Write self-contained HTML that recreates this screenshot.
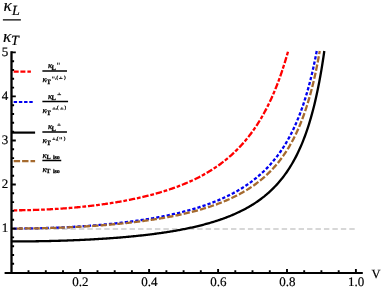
<!DOCTYPE html>
<html><head><meta charset="utf-8"><title>plot</title>
<style>html,body{margin:0;padding:0;background:#fff;width:382px;height:289px;overflow:hidden}svg{display:block;position:absolute;left:0;top:0;will-change:transform;opacity:0.999}svg text{text-rendering:geometricPrecision}</style></head>
<body>
<svg width="382" height="289" viewBox="0 0 382 289">
<rect width="382" height="289" fill="#fff"/>
<g fill="none">
<path d="M11.3 228.9 H355.9" stroke="#cacaca" stroke-width="1.5" stroke-dasharray="5.4 3.05"/>
<path d="M11.30 210.30 L12.34 210.30 L13.37 210.30 L14.41 210.30 L15.45 210.29 L16.49 210.29 L17.52 210.28 L18.56 210.27 L19.60 210.26 L20.63 210.25 L21.67 210.23 L22.71 210.22 L23.74 210.20 L24.78 210.18 L25.82 210.16 L26.86 210.14 L27.89 210.12 L28.93 210.09 L29.97 210.07 L31.00 210.04 L32.04 210.01 L33.08 209.98 L34.11 209.95 L35.15 209.92 L36.19 209.88 L37.23 209.85 L38.26 209.81 L39.30 209.77 L40.34 209.73 L41.37 209.69 L42.41 209.65 L43.45 209.60 L44.49 209.56 L45.52 209.51 L46.56 209.46 L47.60 209.41 L48.63 209.36 L49.67 209.30 L50.71 209.25 L51.74 209.19 L52.78 209.13 L53.82 209.07 L54.86 209.01 L55.89 208.95 L56.93 208.88 L57.97 208.82 L59.00 208.75 L60.04 208.68 L61.08 208.61 L62.11 208.53 L63.15 208.46 L64.19 208.38 L65.23 208.31 L66.26 208.23 L67.30 208.15 L68.34 208.06 L69.37 207.98 L70.41 207.89 L71.45 207.81 L72.49 207.72 L73.52 207.63 L74.56 207.53 L75.60 207.44 L76.63 207.34 L77.67 207.25 L78.71 207.15 L79.74 207.05 L80.78 206.94 L81.82 206.84 L82.86 206.73 L83.89 206.62 L84.93 206.51 L85.97 206.40 L87.00 206.29 L88.04 206.17 L89.08 206.05 L90.12 205.94 L91.15 205.81 L92.19 205.69 L93.23 205.57 L94.26 205.44 L95.30 205.31 L96.34 205.18 L97.37 205.05 L98.41 204.91 L99.45 204.78 L100.49 204.64 L101.52 204.50 L102.56 204.35 L103.60 204.21 L104.63 204.06 L105.67 203.91 L106.71 203.76 L107.74 203.61 L108.78 203.45 L109.82 203.29 L110.86 203.13 L111.89 202.97 L112.93 202.80 L113.97 202.64 L115.00 202.47 L116.04 202.30 L117.08 202.12 L118.12 201.95 L119.15 201.77 L120.19 201.59 L121.23 201.40 L122.26 201.22 L123.30 201.03 L124.34 200.84 L125.37 200.64 L126.41 200.45 L127.45 200.25 L128.49 200.04 L129.52 199.84 L130.56 199.63 L131.60 199.42 L132.63 199.21 L133.67 198.99 L134.71 198.77 L135.74 198.55 L136.78 198.33 L137.82 198.10 L138.86 197.87 L139.89 197.64 L140.93 197.40 L141.97 197.16 L143.00 196.92 L144.04 196.67 L145.08 196.42 L146.12 196.17 L147.15 195.91 L148.19 195.65 L149.23 195.39 L150.26 195.12 L151.30 194.85 L152.34 194.57 L153.37 194.29 L154.41 194.01 L155.45 193.73 L156.49 193.44 L157.52 193.14 L158.56 192.85 L159.60 192.54 L160.63 192.24 L161.67 191.93 L162.71 191.61 L163.74 191.29 L164.78 190.97 L165.82 190.64 L166.86 190.31 L167.89 189.97 L168.93 189.63 L169.97 189.28 L171.00 188.93 L172.04 188.57 L173.08 188.21 L174.12 187.84 L175.15 187.47 L176.19 187.09 L177.23 186.71 L178.26 186.32 L179.30 185.92 L180.34 185.52 L181.37 185.11 L182.41 184.70 L183.45 184.28 L184.49 183.86 L185.52 183.42 L186.56 182.98 L187.60 182.54 L188.63 182.09 L189.67 181.63 L190.71 181.16 L191.75 180.69 L192.78 180.21 L193.82 179.72 L194.86 179.22 L195.89 178.72 L196.93 178.20 L197.97 177.68 L199.00 177.15 L200.04 176.62 L201.08 176.07 L202.12 175.51 L203.15 174.95 L204.19 174.38 L205.23 173.79 L206.26 173.20 L207.30 172.59 L208.34 171.98 L209.37 171.36 L210.41 170.72 L211.45 170.07 L212.49 169.42 L213.52 168.75 L214.56 168.06 L215.60 167.37 L216.63 166.67 L217.67 165.95 L218.71 165.21 L219.75 164.47 L220.78 163.71 L221.82 162.94 L222.86 162.15 L223.89 161.35 L224.93 160.53 L225.97 159.70 L227.00 158.85 L228.04 157.98 L229.08 157.10 L230.12 156.20 L231.15 155.28 L232.19 154.35 L233.23 153.39 L234.26 152.42 L235.30 151.42 L236.34 150.41 L237.37 149.38 L238.41 148.32 L239.45 147.24 L240.49 146.14 L241.52 145.01 L242.56 143.86 L243.60 142.69 L244.63 141.49 L245.67 140.26 L246.71 139.01 L247.75 137.73 L248.78 136.41 L249.82 135.07 L250.86 133.70 L251.89 132.30 L252.93 130.86 L253.97 129.39 L255.00 127.89 L256.04 126.34 L257.08 124.77 L258.12 123.15 L259.15 121.49 L260.19 119.79 L261.23 118.05 L262.26 116.27 L263.30 114.43 L264.34 112.55 L265.37 110.63 L266.41 108.65 L267.45 106.62 L268.49 104.53 L269.52 102.39 L270.56 100.18 L271.60 97.92 L272.63 95.59 L273.67 93.20 L274.71 90.74 L275.75 88.20 L276.78 85.59 L277.82 82.91 L278.86 80.14 L279.89 77.29 L280.93 74.35 L281.97 71.32 L283.00 68.19 L284.04 64.97 L285.08 61.64 L286.12 58.20 L287.15 54.64 L288.18 51.00" stroke="#f00" stroke-width="2.3" stroke-dasharray="6.4 1.8 3.75 1.85" stroke-dashoffset="6"/>
<path d="M11.30 228.55 L12.34 228.55 L13.37 228.55 L14.41 228.55 L15.45 228.54 L16.49 228.54 L17.52 228.53 L18.56 228.53 L19.60 228.52 L20.63 228.51 L21.67 228.50 L22.71 228.49 L23.74 228.48 L24.78 228.47 L25.82 228.46 L26.86 228.44 L27.89 228.43 L28.93 228.41 L29.97 228.40 L31.00 228.38 L32.04 228.36 L33.08 228.34 L34.11 228.32 L35.15 228.30 L36.19 228.28 L37.23 228.26 L38.26 228.23 L39.30 228.21 L40.34 228.18 L41.37 228.15 L42.41 228.13 L43.45 228.10 L44.49 228.07 L45.52 228.04 L46.56 228.01 L47.60 227.97 L48.63 227.94 L49.67 227.90 L50.71 227.87 L51.74 227.83 L52.78 227.79 L53.82 227.75 L54.86 227.71 L55.89 227.67 L56.93 227.63 L57.97 227.59 L59.00 227.54 L60.04 227.50 L61.08 227.45 L62.11 227.41 L63.15 227.36 L64.19 227.31 L65.23 227.26 L66.26 227.21 L67.30 227.16 L68.34 227.10 L69.37 227.05 L70.41 226.99 L71.45 226.93 L72.49 226.88 L73.52 226.82 L74.56 226.76 L75.60 226.70 L76.63 226.63 L77.67 226.57 L78.71 226.51 L79.74 226.44 L80.78 226.37 L81.82 226.30 L82.86 226.24 L83.89 226.17 L84.93 226.09 L85.97 226.02 L87.00 225.95 L88.04 225.87 L89.08 225.79 L90.12 225.72 L91.15 225.64 L92.19 225.56 L93.23 225.48 L94.26 225.39 L95.30 225.31 L96.34 225.22 L97.37 225.14 L98.41 225.05 L99.45 224.96 L100.49 224.87 L101.52 224.78 L102.56 224.68 L103.60 224.59 L104.63 224.49 L105.67 224.40 L106.71 224.30 L107.74 224.20 L108.78 224.09 L109.82 223.99 L110.86 223.89 L111.89 223.78 L112.93 223.67 L113.97 223.56 L115.00 223.45 L116.04 223.34 L117.08 223.23 L118.12 223.11 L119.15 223.00 L120.19 222.88 L121.23 222.76 L122.26 222.64 L123.30 222.51 L124.34 222.39 L125.37 222.26 L126.41 222.13 L127.45 222.00 L128.49 221.87 L129.52 221.74 L130.56 221.60 L131.60 221.46 L132.63 221.33 L133.67 221.19 L134.71 221.04 L135.74 220.90 L136.78 220.75 L137.82 220.60 L138.86 220.45 L139.89 220.30 L140.93 220.15 L141.97 219.99 L143.00 219.83 L144.04 219.67 L145.08 219.51 L146.12 219.35 L147.15 219.18 L148.19 219.01 L149.23 218.84 L150.26 218.67 L151.30 218.49 L152.34 218.31 L153.37 218.13 L154.41 217.95 L155.45 217.77 L156.49 217.58 L157.52 217.39 L158.56 217.20 L159.60 217.00 L160.63 216.81 L161.67 216.61 L162.71 216.40 L163.74 216.20 L164.78 215.99 L165.82 215.78 L166.86 215.57 L167.89 215.35 L168.93 215.13 L169.97 214.91 L171.00 214.68 L172.04 214.46 L173.08 214.23 L174.12 213.99 L175.15 213.75 L176.19 213.51 L177.23 213.27 L178.26 213.02 L179.30 212.77 L180.34 212.52 L181.37 212.26 L182.41 212.00 L183.45 211.74 L184.49 211.47 L185.52 211.20 L186.56 210.92 L187.60 210.64 L188.63 210.36 L189.67 210.07 L190.71 209.78 L191.75 209.49 L192.78 209.19 L193.82 208.89 L194.86 208.58 L195.89 208.26 L196.93 207.95 L197.97 207.63 L199.00 207.30 L200.04 206.97 L201.08 206.63 L202.12 206.29 L203.15 205.95 L204.19 205.60 L205.23 205.24 L206.26 204.88 L207.30 204.51 L208.34 204.14 L209.37 203.76 L210.41 203.38 L211.45 202.99 L212.49 202.59 L213.52 202.19 L214.56 201.78 L215.60 201.37 L216.63 200.95 L217.67 200.52 L218.71 200.08 L219.75 199.64 L220.78 199.19 L221.82 198.74 L222.86 198.27 L223.89 197.80 L224.93 197.32 L225.97 196.83 L227.00 196.34 L228.04 195.83 L229.08 195.32 L230.12 194.80 L231.15 194.27 L232.19 193.73 L233.23 193.18 L234.26 192.62 L235.30 192.05 L236.34 191.47 L237.37 190.88 L238.41 190.28 L239.45 189.67 L240.49 189.05 L241.52 188.42 L242.56 187.77 L243.60 187.11 L244.63 186.44 L245.67 185.75 L246.71 185.06 L247.75 184.35 L248.78 183.62 L249.82 182.88 L250.86 182.13 L251.89 181.35 L252.93 180.57 L253.97 179.77 L255.00 178.95 L256.04 178.11 L257.08 177.26 L258.12 176.38 L259.15 175.49 L260.19 174.58 L261.23 173.65 L262.26 172.69 L263.30 171.72 L264.34 170.72 L265.37 169.70 L266.41 168.66 L267.45 167.59 L268.49 166.50 L269.52 165.37 L270.56 164.23 L271.60 163.05 L272.63 161.84 L273.67 160.60 L274.71 159.34 L275.75 158.03 L276.78 156.70 L277.82 155.32 L278.86 153.91 L279.89 152.46 L280.93 150.98 L281.97 149.44 L283.00 147.87 L284.04 146.25 L285.08 144.58 L286.12 142.86 L287.15 141.09 L288.19 139.27 L289.23 137.39 L290.26 135.44 L291.30 133.44 L292.34 131.37 L293.38 129.23 L294.41 127.02 L295.45 124.73 L296.49 122.37 L297.52 119.92 L298.56 117.38 L299.60 114.74 L300.63 112.01 L301.67 109.17 L302.71 106.22 L303.75 103.16 L304.78 99.97 L305.82 96.64 L306.86 93.18 L307.89 89.57 L308.93 85.79 L309.97 81.85 L311.00 77.72 L312.04 73.40 L313.08 68.87 L314.12 64.12 L315.15 59.12 L316.19 53.86 L316.73 51.00" stroke="#0000f0" stroke-width="2.3" stroke-dasharray="3.3 2" stroke-dashoffset="2.89"/>
<path d="M11.30 241.45 L12.34 241.45 L13.37 241.45 L14.41 241.45 L15.45 241.45 L16.49 241.44 L17.52 241.44 L18.56 241.44 L19.60 241.43 L20.63 241.43 L21.67 241.42 L22.71 241.41 L23.74 241.41 L24.78 241.40 L25.82 241.39 L26.86 241.38 L27.89 241.37 L28.93 241.36 L29.97 241.35 L31.00 241.34 L32.04 241.32 L33.08 241.31 L34.11 241.30 L35.15 241.28 L36.19 241.27 L37.23 241.25 L38.26 241.23 L39.30 241.22 L40.34 241.20 L41.37 241.18 L42.41 241.16 L43.45 241.14 L44.49 241.12 L45.52 241.10 L46.56 241.08 L47.60 241.06 L48.63 241.03 L49.67 241.01 L50.71 240.98 L51.74 240.96 L52.78 240.93 L53.82 240.91 L54.86 240.88 L55.89 240.85 L56.93 240.82 L57.97 240.79 L59.00 240.76 L60.04 240.73 L61.08 240.70 L62.11 240.67 L63.15 240.63 L64.19 240.60 L65.23 240.56 L66.26 240.53 L67.30 240.49 L68.34 240.46 L69.37 240.42 L70.41 240.38 L71.45 240.34 L72.49 240.30 L73.52 240.26 L74.56 240.22 L75.60 240.17 L76.63 240.13 L77.67 240.09 L78.71 240.04 L79.74 240.00 L80.78 239.95 L81.82 239.90 L82.86 239.85 L83.89 239.80 L84.93 239.75 L85.97 239.70 L87.00 239.65 L88.04 239.60 L89.08 239.55 L90.12 239.49 L91.15 239.44 L92.19 239.38 L93.23 239.32 L94.26 239.26 L95.30 239.21 L96.34 239.15 L97.37 239.08 L98.41 239.02 L99.45 238.96 L100.49 238.90 L101.52 238.83 L102.56 238.76 L103.60 238.70 L104.63 238.63 L105.67 238.56 L106.71 238.49 L107.74 238.42 L108.78 238.35 L109.82 238.27 L110.86 238.20 L111.89 238.12 L112.93 238.05 L113.97 237.97 L115.00 237.89 L116.04 237.81 L117.08 237.73 L118.12 237.65 L119.15 237.56 L120.19 237.48 L121.23 237.39 L122.26 237.31 L123.30 237.22 L124.34 237.13 L125.37 237.04 L126.41 236.94 L127.45 236.85 L128.49 236.76 L129.52 236.66 L130.56 236.56 L131.60 236.46 L132.63 236.36 L133.67 236.26 L134.71 236.16 L135.74 236.05 L136.78 235.95 L137.82 235.84 L138.86 235.73 L139.89 235.62 L140.93 235.51 L141.97 235.39 L143.00 235.28 L144.04 235.16 L145.08 235.04 L146.12 234.92 L147.15 234.80 L148.19 234.67 L149.23 234.55 L150.26 234.42 L151.30 234.29 L152.34 234.16 L153.37 234.03 L154.41 233.89 L155.45 233.76 L156.49 233.62 L157.52 233.48 L158.56 233.33 L159.60 233.19 L160.63 233.04 L161.67 232.89 L162.71 232.74 L163.74 232.59 L164.78 232.44 L165.82 232.28 L166.86 232.12 L167.89 231.96 L168.93 231.79 L169.97 231.63 L171.00 231.46 L172.04 231.29 L173.08 231.11 L174.12 230.94 L175.15 230.76 L176.19 230.58 L177.23 230.39 L178.26 230.20 L179.30 230.01 L180.34 229.82 L181.37 229.63 L182.41 229.43 L183.45 229.23 L184.49 229.02 L185.52 228.82 L186.56 228.61 L187.60 228.39 L188.63 228.18 L189.67 227.96 L190.71 227.73 L191.75 227.51 L192.78 227.28 L193.82 227.04 L194.86 226.81 L195.89 226.56 L196.93 226.32 L197.97 226.07 L199.00 225.82 L200.04 225.56 L201.08 225.30 L202.12 225.04 L203.15 224.77 L204.19 224.50 L205.23 224.22 L206.26 223.94 L207.30 223.65 L208.34 223.36 L209.37 223.06 L210.41 222.76 L211.45 222.46 L212.49 222.15 L213.52 221.83 L214.56 221.51 L215.60 221.18 L216.63 220.85 L217.67 220.51 L218.71 220.17 L219.75 219.82 L220.78 219.46 L221.82 219.10 L222.86 218.73 L223.89 218.36 L224.93 217.98 L225.97 217.59 L227.00 217.19 L228.04 216.79 L229.08 216.38 L230.12 215.96 L231.15 215.54 L232.19 215.11 L233.23 214.66 L234.26 214.22 L235.30 213.76 L236.34 213.29 L237.37 212.82 L238.41 212.33 L239.45 211.84 L240.49 211.33 L241.52 210.82 L242.56 210.30 L243.60 209.76 L244.63 209.22 L245.67 208.66 L246.71 208.09 L247.75 207.51 L248.78 206.92 L249.82 206.32 L250.86 205.70 L251.89 205.07 L252.93 204.42 L253.97 203.77 L255.00 203.09 L256.04 202.41 L257.08 201.70 L258.12 200.98 L259.15 200.25 L260.19 199.50 L261.23 198.73 L262.26 197.94 L263.30 197.13 L264.34 196.31 L265.37 195.46 L266.41 194.60 L267.45 193.71 L268.49 192.80 L269.52 191.86 L270.56 190.91 L271.60 189.93 L272.63 188.92 L273.67 187.89 L274.71 186.82 L275.75 185.73 L276.78 184.62 L277.82 183.46 L278.86 182.28 L279.89 181.06 L280.93 179.81 L281.97 178.53 L283.00 177.20 L284.04 175.83 L285.08 174.43 L286.12 172.98 L287.15 171.48 L288.19 169.94 L289.23 168.35 L290.26 166.70 L291.30 165.00 L292.34 163.25 L293.38 161.43 L294.41 159.55 L295.45 157.61 L296.49 155.60 L297.52 153.51 L298.56 151.35 L299.60 149.10 L300.63 146.77 L301.67 144.34 L302.71 141.83 L303.75 139.20 L304.78 136.47 L305.82 133.63 L306.86 130.66 L307.89 127.56 L308.93 124.33 L309.97 120.94 L311.00 117.40 L312.04 113.68 L313.08 109.79 L314.12 105.70 L315.15 101.39 L316.19 96.86 L317.23 92.09 L318.26 87.05 L319.30 81.72 L320.34 76.07 L321.38 70.09 L322.41 63.73 L323.45 56.96 L324.31 51.00" stroke="#000" stroke-width="2.3"/>
<path d="M11.30 228.55 L12.34 228.55 L13.37 228.55 L14.41 228.55 L15.45 228.54 L16.49 228.54 L17.52 228.54 L18.56 228.53 L19.60 228.52 L20.63 228.52 L21.67 228.51 L22.71 228.50 L23.74 228.49 L24.78 228.48 L25.82 228.47 L26.86 228.46 L27.89 228.45 L28.93 228.43 L29.97 228.42 L31.00 228.41 L32.04 228.39 L33.08 228.37 L34.11 228.36 L35.15 228.34 L36.19 228.32 L37.23 228.30 L38.26 228.28 L39.30 228.26 L40.34 228.23 L41.37 228.21 L42.41 228.19 L43.45 228.16 L44.49 228.14 L45.52 228.11 L46.56 228.08 L47.60 228.06 L48.63 228.03 L49.67 228.00 L50.71 227.97 L51.74 227.93 L52.78 227.90 L53.82 227.87 L54.86 227.83 L55.89 227.80 L56.93 227.76 L57.97 227.73 L59.00 227.69 L60.04 227.65 L61.08 227.61 L62.11 227.57 L63.15 227.53 L64.19 227.49 L65.23 227.44 L66.26 227.40 L67.30 227.36 L68.34 227.31 L69.37 227.26 L70.41 227.21 L71.45 227.17 L72.49 227.12 L73.52 227.07 L74.56 227.01 L75.60 226.96 L76.63 226.91 L77.67 226.85 L78.71 226.80 L79.74 226.74 L80.78 226.68 L81.82 226.62 L82.86 226.57 L83.89 226.50 L84.93 226.44 L85.97 226.38 L87.00 226.32 L88.04 226.25 L89.08 226.19 L90.12 226.12 L91.15 226.05 L92.19 225.98 L93.23 225.91 L94.26 225.84 L95.30 225.77 L96.34 225.69 L97.37 225.62 L98.41 225.54 L99.45 225.47 L100.49 225.39 L101.52 225.31 L102.56 225.23 L103.60 225.15 L104.63 225.06 L105.67 224.98 L106.71 224.89 L107.74 224.81 L108.78 224.72 L109.82 224.63 L110.86 224.54 L111.89 224.45 L112.93 224.35 L113.97 224.26 L115.00 224.16 L116.04 224.07 L117.08 223.97 L118.12 223.87 L119.15 223.77 L120.19 223.66 L121.23 223.56 L122.26 223.45 L123.30 223.35 L124.34 223.24 L125.37 223.13 L126.41 223.02 L127.45 222.90 L128.49 222.79 L129.52 222.67 L130.56 222.56 L131.60 222.44 L132.63 222.32 L133.67 222.19 L134.71 222.07 L135.74 221.94 L136.78 221.82 L137.82 221.69 L138.86 221.56 L139.89 221.42 L140.93 221.29 L141.97 221.15 L143.00 221.01 L144.04 220.87 L145.08 220.73 L146.12 220.59 L147.15 220.44 L148.19 220.30 L149.23 220.15 L150.26 220.00 L151.30 219.84 L152.34 219.69 L153.37 219.53 L154.41 219.37 L155.45 219.21 L156.49 219.04 L157.52 218.88 L158.56 218.71 L159.60 218.54 L160.63 218.36 L161.67 218.19 L162.71 218.01 L163.74 217.83 L164.78 217.65 L165.82 217.46 L166.86 217.28 L167.89 217.09 L168.93 216.89 L169.97 216.70 L171.00 216.50 L172.04 216.30 L173.08 216.10 L174.12 215.89 L175.15 215.68 L176.19 215.47 L177.23 215.25 L178.26 215.04 L179.30 214.82 L180.34 214.59 L181.37 214.36 L182.41 214.13 L183.45 213.90 L184.49 213.66 L185.52 213.42 L186.56 213.18 L187.60 212.93 L188.63 212.68 L189.67 212.43 L190.71 212.17 L191.75 211.91 L192.78 211.64 L193.82 211.37 L194.86 211.10 L195.89 210.82 L196.93 210.54 L197.97 210.26 L199.00 209.97 L200.04 209.67 L201.08 209.37 L202.12 209.07 L203.15 208.76 L204.19 208.45 L205.23 208.13 L206.26 207.81 L207.30 207.48 L208.34 207.15 L209.37 206.82 L210.41 206.47 L211.45 206.12 L212.49 205.77 L213.52 205.41 L214.56 205.05 L215.60 204.68 L216.63 204.30 L217.67 203.92 L218.71 203.53 L219.75 203.13 L220.78 202.73 L221.82 202.32 L222.86 201.91 L223.89 201.48 L224.93 201.05 L225.97 200.62 L227.00 200.17 L228.04 199.72 L229.08 199.26 L230.12 198.79 L231.15 198.31 L232.19 197.83 L233.23 197.33 L234.26 196.83 L235.30 196.32 L236.34 195.80 L237.37 195.26 L238.41 194.72 L239.45 194.17 L240.49 193.61 L241.52 193.04 L242.56 192.45 L243.60 191.86 L244.63 191.25 L245.67 190.64 L246.71 190.01 L247.75 189.36 L248.78 188.71 L249.82 188.04 L250.86 187.35 L251.89 186.66 L252.93 185.94 L253.97 185.22 L255.00 184.47 L256.04 183.72 L257.08 182.94 L258.12 182.15 L259.15 181.34 L260.19 180.51 L261.23 179.67 L262.26 178.80 L263.30 177.91 L264.34 177.01 L265.37 176.08 L266.41 175.13 L267.45 174.16 L268.49 173.16 L269.52 172.14 L270.56 171.09 L271.60 170.02 L272.63 168.92 L273.67 167.79 L274.71 166.64 L275.75 165.45 L276.78 164.23 L277.82 162.98 L278.86 161.69 L279.89 160.36 L280.93 159.00 L281.97 157.61 L283.00 156.17 L284.04 154.68 L285.08 153.16 L286.12 151.59 L287.15 149.97 L288.19 148.29 L289.23 146.57 L290.26 144.79 L291.30 142.96 L292.34 141.06 L293.38 139.10 L294.41 137.07 L295.45 134.98 L296.49 132.80 L297.52 130.55 L298.56 128.22 L299.60 125.80 L300.63 123.29 L301.67 120.69 L302.71 117.98 L303.75 115.16 L304.78 112.23 L305.82 109.17 L306.86 105.99 L307.89 102.66 L308.93 99.19 L309.97 95.56 L311.00 91.76 L312.04 87.79 L313.08 83.61 L314.12 79.23 L315.15 74.63 L316.19 69.78 L317.23 64.68 L318.26 59.29 L319.30 53.59 L319.75 51.00" stroke="#a56a2e" stroke-width="2.3" stroke-dasharray="6.3 2.1" stroke-dashoffset="3.11"/>
</g>
<g stroke="#000" fill="none">
<path d="M4.6 272.9 H362.8" stroke-width="2"/>
<path d="M11.5 51.2 V274" stroke-width="2.3"/>
<path d="M28.5 272.9 V270.3 M45.8 272.9 V270.3 M63.0 272.9 V270.3 M80.2 272.9 V268.9 M97.5 272.9 V270.3 M114.7 272.9 V270.3 M131.9 272.9 V270.3 M149.1 272.9 V268.9 M166.4 272.9 V270.3 M183.6 272.9 V270.3 M200.8 272.9 V270.3 M218.1 272.9 V268.9 M235.3 272.9 V270.3 M252.5 272.9 V270.3 M269.8 272.9 V270.3 M287.0 272.9 V268.9 M304.2 272.9 V270.3 M321.4 272.9 V270.3 M338.7 272.9 V270.3 M355.9 272.9 V268.9" stroke-width="1.9"/>
<path d="M11.5 263.8 H14.1 M11.5 255.0 H14.1 M11.5 246.2 H14.1 M11.5 237.4 H14.1 M11.5 228.6 H15.8 M11.5 219.7 H14.1 M11.5 210.9 H14.1 M11.5 202.1 H14.1 M11.5 193.3 H14.1 M11.5 184.5 H15.8 M11.5 175.7 H14.1 M11.5 166.9 H14.1 M11.5 158.1 H14.1 M11.5 149.3 H14.1 M11.5 140.5 H15.8 M11.5 131.6 H14.1 M11.5 122.8 H14.1 M11.5 114.0 H14.1 M11.5 105.2 H14.1 M11.5 96.4 H15.8 M11.5 87.6 H14.1 M11.5 78.8 H14.1 M11.5 70.0 H14.1 M11.5 61.2 H14.1 M11.5 52.4 H15.8" stroke-width="1.9"/>
</g>
<g fill="none">
<path d="M13.7 71.6 H31.3" stroke="#f00" stroke-width="2.1" stroke-dasharray="5 1.7 5 2 3.5 10"/>
<path d="M13.7 102.0 H33" stroke="#0000f0" stroke-width="2.1" stroke-dasharray="3.4 1.8"/>
<path d="M12 132.6 H35.1" stroke="#000" stroke-width="2.2"/>
<path d="M13.7 161.1 H35.1" stroke="#a56a2e" stroke-width="2.1" stroke-dasharray="6.4 2"/>
</g>
<g transform="rotate(0.02)" font-family="Liberation Serif, serif" fill="#000" stroke="#000" stroke-width="0.2">
<g font-size="13">
<text x="80.6" y="286" text-anchor="middle">0.2</text>
<text x="149.5" y="286" text-anchor="middle">0.4</text>
<text x="218.5" y="286" text-anchor="middle">0.6</text>
<text x="287.4" y="286" text-anchor="middle">0.8</text>
<text x="356.3" y="286" text-anchor="middle">1.0</text>
<text x="8.4" y="231.9" text-anchor="end">1</text>
<text x="8.4" y="187.8" text-anchor="end">2</text>
<text x="8.4" y="143.8" text-anchor="end">3</text>
<text x="8.4" y="99.7" text-anchor="end">4</text>
<text x="8.4" y="55.7" text-anchor="end">5</text>
<text x="371.6" y="277.6" font-size="12.6">V</text>
</g>
<g font-style="italic">
<text x="3.5" y="11.3" font-size="17.4">κ</text><text x="12.0" y="14.5" font-size="14">L</text>
<text x="3.1" y="41.6" font-size="17.4">κ</text><text x="10.9" y="44.6" font-size="14">T</text>
</g>
<path d="M2.9 19.95 H20.9" stroke-width="1.3"/>
<path d="M42.4 71.00 H67.00" stroke-width="1.45"/>
<g stroke-width="0.28">
<text x="47.95" y="68.10" font-style="italic" font-size="8.7">κ</text>
<text x="51.65" y="69.60" font-weight="bold" font-size="6.5">L</text>
<text x="42.55" y="82.00" font-style="italic" font-size="8.7">κ</text>
<text x="46.55" y="84.00" font-weight="bold" font-size="6.7">T</text>
<text x="55.4" y="78.70" font-size="4.8" stroke-width="0.3">,(</text><text x="64.0" y="78.70" font-size="4.8" stroke-width="0.3">)</text>
</g>
<path d="M57.60 64.70 v-2.10 M59.30 64.70 v-2.10 M52.60 78.40 v-1.90 M54.10 78.40 v-1.90 M59.00 78.50 h3.60 M60.80 78.50 v-2.00" stroke-width="0.80" fill="none"/>
<path d="M42.4 101.55 H68.10" stroke-width="1.45"/>
<g stroke-width="0.28">
<text x="47.95" y="98.65" font-style="italic" font-size="8.7">κ</text>
<text x="51.65" y="100.15" font-weight="bold" font-size="6.5">L</text>
<text x="42.55" y="112.55" font-style="italic" font-size="8.7">κ</text>
<text x="46.55" y="114.55" font-weight="bold" font-size="6.7">T</text>
<text x="55.9" y="109.25" font-size="4.8" stroke-width="0.3">,(</text><text x="64.6" y="109.25" font-size="4.8" stroke-width="0.3">)</text>
</g>
<path d="M57.40 94.65 h3.70 M59.25 94.65 v-2.00 M52.40 109.05 h3.40 M54.10 109.05 v-1.90 M60.20 109.05 h3.40 M61.90 109.05 v-1.90" stroke-width="0.80" fill="none"/>
<path d="M42.4 131.90 H67.00" stroke-width="1.45"/>
<g stroke-width="0.28">
<text x="47.95" y="129.00" font-style="italic" font-size="8.7">κ</text>
<text x="51.65" y="130.50" font-weight="bold" font-size="6.5">L</text>
<text x="42.55" y="142.90" font-style="italic" font-size="8.7">κ</text>
<text x="46.55" y="144.90" font-weight="bold" font-size="6.7">T</text>
<text x="55.7" y="139.60" font-size="4.8" stroke-width="0.3">,(</text><text x="63.8" y="139.60" font-size="4.8" stroke-width="0.3">)</text>
</g>
<path d="M57.40 125.20 h3.30 M59.05 125.20 v-1.90 M52.40 139.40 h3.00 M53.90 139.40 v-1.90 M60.00 139.30 v-2.20 M61.60 139.30 v-2.20" stroke-width="0.80" fill="none"/>
<path d="M42.4 160.4 H61.3" stroke-width="1.45"/>
<g stroke-width="0.28">
<text x="42.45" y="157.7" font-style="italic" font-size="8.7">κ</text><text x="46.5" y="159.3" font-weight="bold" font-size="6.2">L</text><text x="53.0" y="159.3" font-weight="bold" font-size="5.9">iso</text>
<text x="42.45" y="171.5" font-style="italic" font-size="8.7">κ</text><text x="46.3" y="173.2" font-weight="bold" font-size="6.2">T</text><text x="53.0" y="173.2" font-weight="bold" font-size="5.9">iso</text>
</g>
</g>
</svg>
</body></html>
